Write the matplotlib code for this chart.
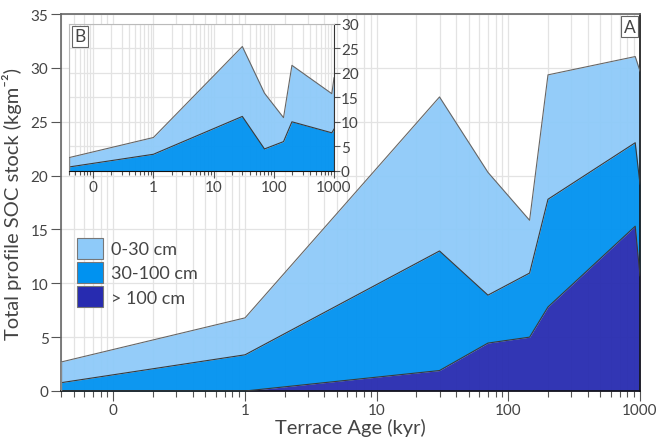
import matplotlib
matplotlib.use("Agg")
import matplotlib.pyplot as plt
import numpy as np
from matplotlib.ticker import FixedLocator, FixedFormatter, LogLocator, NullFormatter
from matplotlib.patches import Patch

plt.rcParams['font.family'] = ['Lato', 'DejaVu Sans']

# Data
ages = [0.04, 1, 30, 70, 145, 200, 920, 1000]          # kyr (0.04 ~ age 0 plotted at left edge)
soc_0_30 = [1.92, 3.43, 14.3, 11.4, 4.9, 11.55, 8.0, 10.5]
soc_30_100 = [0.77, 3.36, 11.1, 4.45, 5.95, 10.0, 7.75, 8.5]
soc_gt_100 = [0.0, 0.0, 1.9, 4.45, 5.0, 7.8, 15.3, 10.7]
layer_labels = ["0-30 cm", "30-100 cm", "> 100 cm"]
xtick_vals = [0.1, 1, 10, 100, 1000]
xtick_labels = ["0", "1", "10", "100", "1000"]

c_light = "#8ECAF9"
c_mid = "#0092F0"
c_dark = "#272BB0"
edge = "#3a3a3a"
txt = "#444444"
gridc = "#e3e3e3"

a = np.array(ages)
d = np.array(soc_gt_100)
m = np.array(soc_30_100)
t = np.array(soc_0_30)

fig = plt.figure(figsize=(6.56, 4.39), dpi=100)
ax = fig.add_axes([61/656, 1-392/439, (640-61)/656, (392-15)/439])

def style_x(axx, fs):
    axx.set_xscale("log")
    axx.set_xlim(0.04, 1000)
    axx.xaxis.set_major_locator(FixedLocator(xtick_vals))
    axx.xaxis.set_major_formatter(FixedFormatter(xtick_labels))
    axx.xaxis.set_minor_locator(LogLocator(base=10, subs=np.arange(2, 10)))
    axx.xaxis.set_minor_formatter(NullFormatter())
    axx.tick_params(axis='x', which='major', length=7, width=0.8, color='#555555', labelsize=fs, labelcolor=txt, pad=2)
    axx.tick_params(axis='x', which='minor', length=4, width=0.8, color='#555555')
    axx.grid(True, which='both', axis='x', color=gridc, lw=0.9, zorder=0)
    axx.grid(True, which='major', axis='y', color=gridc, lw=0.9, zorder=0)
    axx.set_axisbelow(True)

# Main stacked areas
lvl1 = d
lvl2 = d + m
lvl3 = d + m + t
ax.fill_between(a, lvl2, lvl3, color=c_light, alpha=0.95, lw=0, zorder=2)
ax.fill_between(a, lvl1, lvl2, color=c_mid, alpha=0.95, lw=0, zorder=2)
ax.fill_between(a, 0, lvl1, color=c_dark, alpha=0.95, lw=0, zorder=2)
ax.plot(a, lvl3, color="#666666", lw=0.8, zorder=3)
ax.plot(a, lvl2, color=edge, lw=0.8, zorder=3)
ax.plot(a, lvl1, color=edge, lw=0.8, zorder=3)
ax.plot([a[-1], a[-1]], [0, lvl3[-1]], color="#555555", lw=0.8, zorder=3)
ax.plot([a[0], a[0]], [0, lvl3[0]], color="#888888", lw=1.0, zorder=3)

style_x(ax, 11)
ax.set_ylim(0, 35)
ax.set_yticks(np.arange(0, 36, 5))
ax.tick_params(axis='y', length=7, width=0.8, color='#555555', labelsize=11, labelcolor=txt, pad=2)
for s in ['top', 'left']:
    ax.spines[s].set_color('#666666')
ax.spines['bottom'].set_color('#111111')
ax.spines['right'].set_color('#111111')
for s in ax.spines.values():
    s.set_linewidth(1.2)
ax.set_xlabel("Terrace Age (kyr)", fontsize=14.5, color=txt, labelpad=0)
ax.set_ylabel("Total profile SOC stock (kgm\u207b\u00b2)", fontsize=14.5, color=txt, labelpad=6)

handles = [Patch(facecolor=c_light, edgecolor='#777777', lw=0.8),
           Patch(facecolor=c_mid, edgecolor='#777777', lw=0.8),
           Patch(facecolor=c_dark, edgecolor='#777777', lw=0.8)]
leg = ax.legend(handles, layer_labels, loc='upper left', bbox_to_anchor=(0.0, 0.45),
                frameon=False, fontsize=13, handlelength=1.45, handleheight=1.45,
                handletextpad=0.4, labelspacing=0.15, borderaxespad=0.5)
for tx in leg.get_texts():
    tx.set_color(txt)

ax.text(0.992, 0.988, "A", transform=ax.transAxes, ha='right', va='top', fontsize=12.5, color=txt,
        bbox=dict(boxstyle='square,pad=0.15', fc='white', ec='#666666', lw=0.8), zorder=10)

# Inset B
axi = fig.add_axes([69.3/656, 1-171.7/439, (334-69.3)/656, (171.7-25)/439])
axi.set_facecolor('white')
i1 = m
i2 = m + t
axi.fill_between(a, i1, i2, color=c_light, alpha=0.95, lw=0, zorder=2)
axi.fill_between(a, 0, i1, color=c_mid, alpha=0.95, lw=0, zorder=2)
axi.plot(a, i2, color="#666666", lw=0.8, zorder=3)
axi.plot(a, i1, color=edge, lw=0.8, zorder=3)
axi.plot([a[-1], a[-1]], [0, i2[-1]], color="#555555", lw=0.8, zorder=3)
axi.plot([a[0], a[0]], [0, i2[0]], color="#888888", lw=1.0, zorder=3)
style_x(axi, 11)
axi.set_ylim(0, 30)
axi.set_yticks(np.arange(0, 31, 5))
axi.yaxis.tick_right()
axi.tick_params(axis='y', length=4, width=0.8, color='#555555', labelsize=11, labelcolor=txt, pad=1)
axi.tick_params(axis='x', which='major', length=5)
axi.tick_params(axis='x', which='minor', length=3)
axi.spines['top'].set_color('#bbbbbb')
axi.spines['left'].set_color('#bbbbbb')
axi.spines['bottom'].set_color('#111111')
axi.spines['right'].set_color('#333333')
axi.text(0.02, 0.97, "B", transform=axi.transAxes, ha='left', va='top', fontsize=12.5, color=txt,
         bbox=dict(boxstyle='square,pad=0.15', fc='white', ec='#666666', lw=0.8), zorder=10)

fig.savefig("out.png", dpi=100)
